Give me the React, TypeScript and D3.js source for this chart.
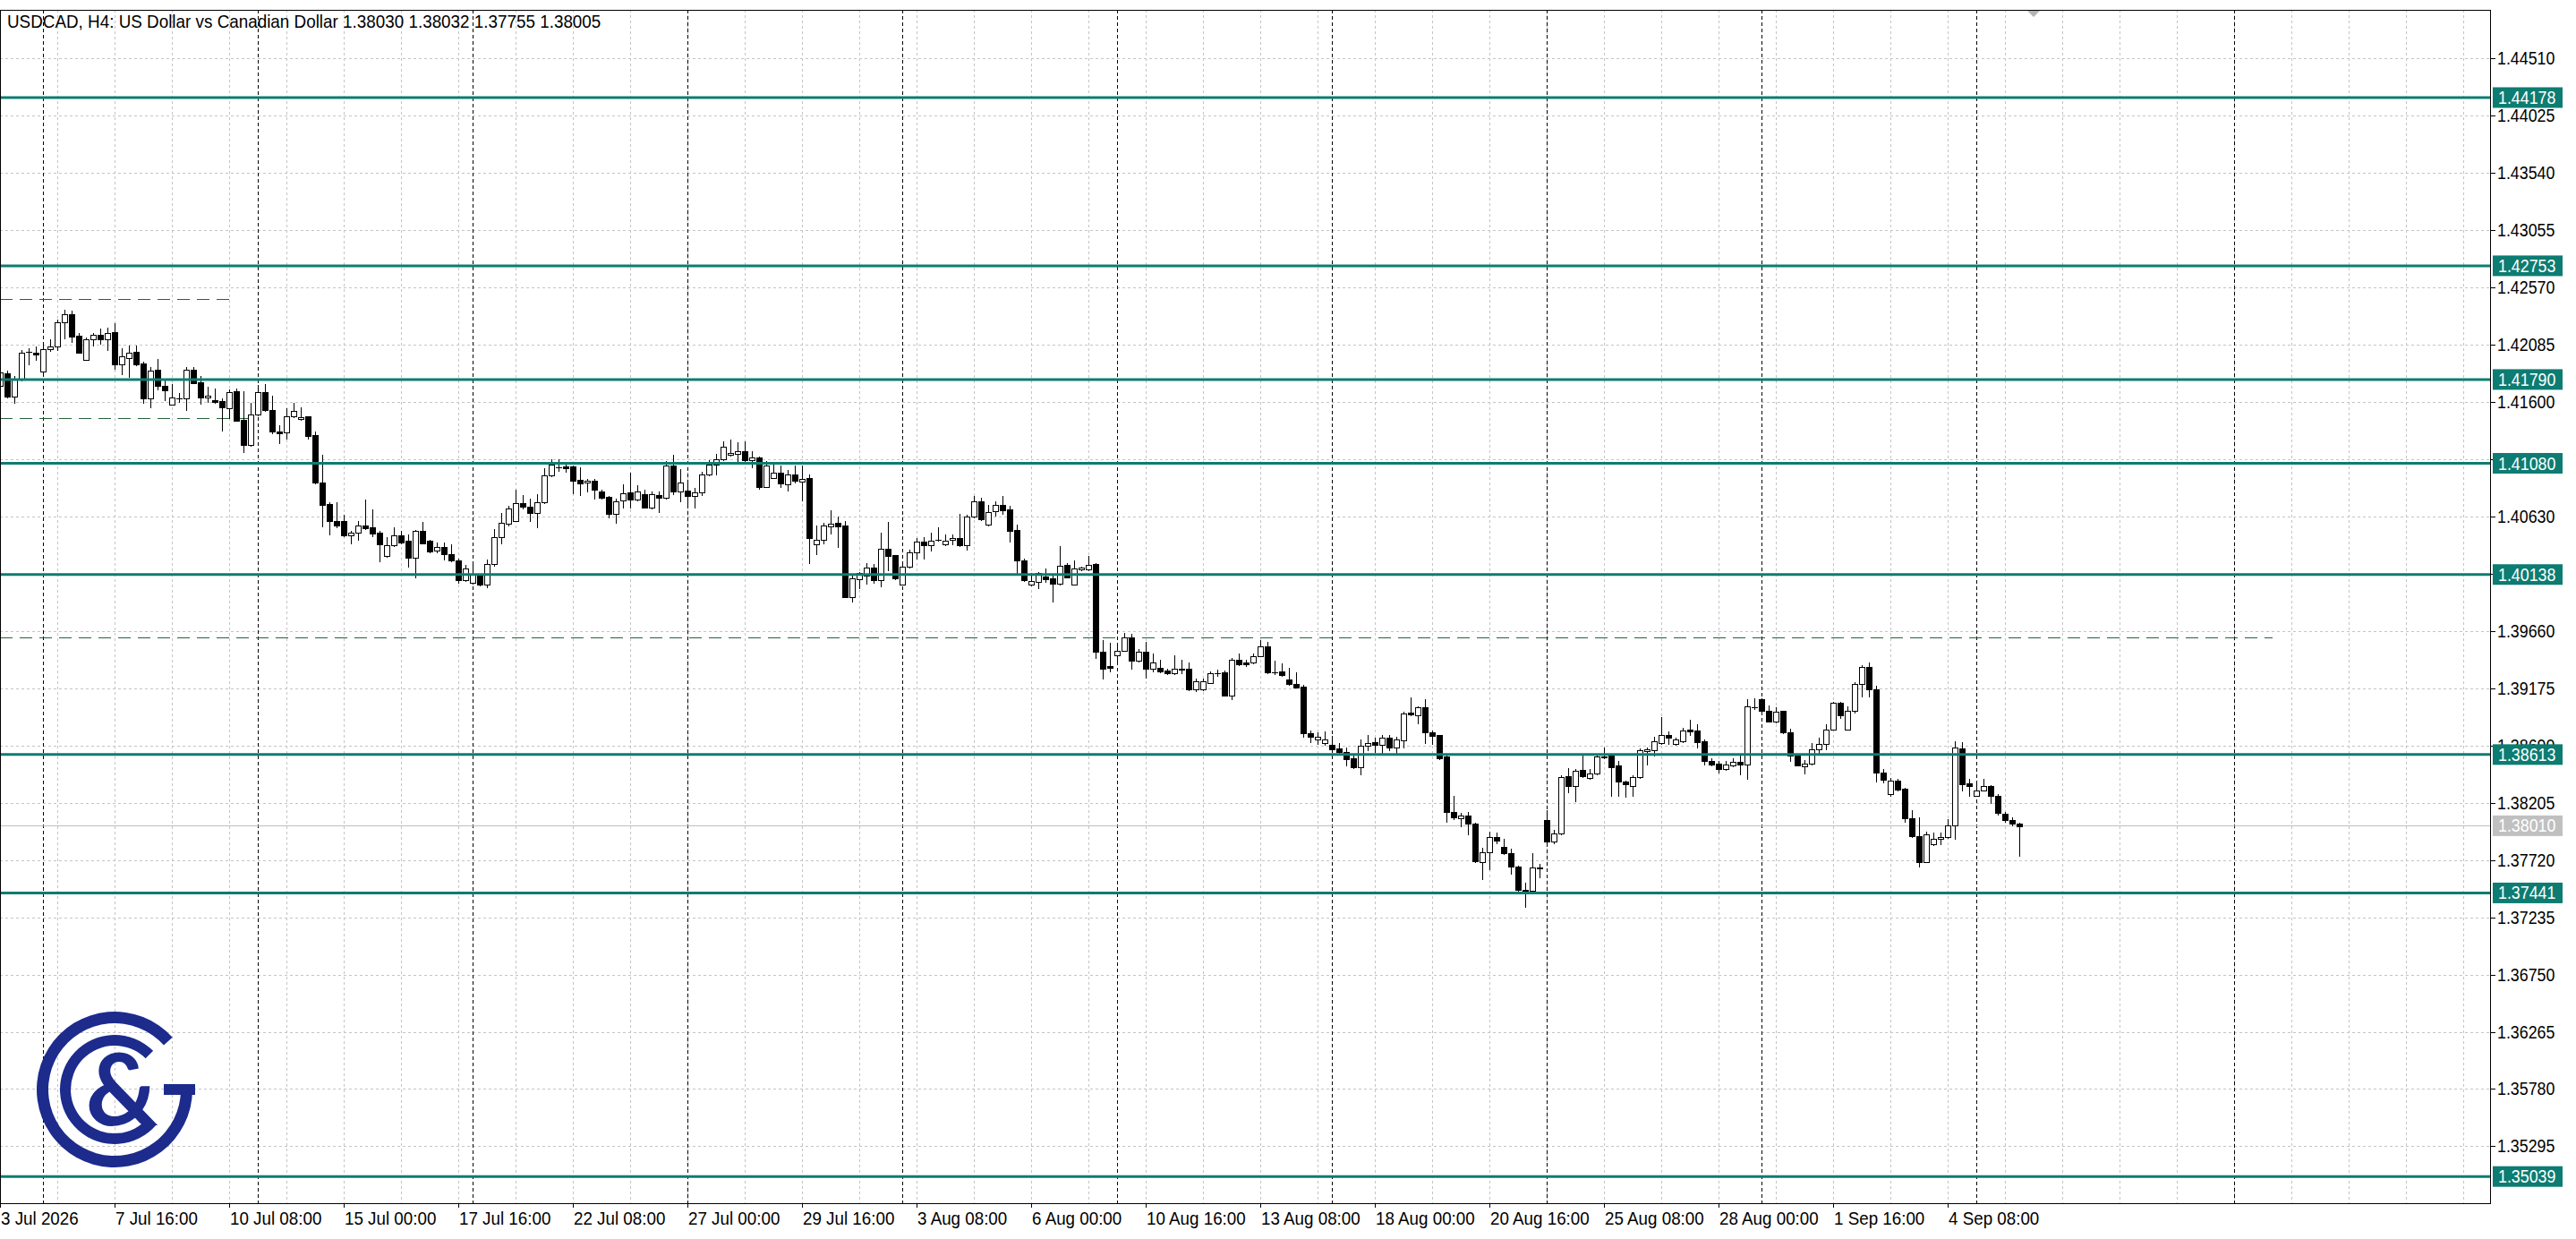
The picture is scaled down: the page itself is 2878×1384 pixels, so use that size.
import React, { useEffect } from "react";
import * as d3 from "d3";

const W = 2878;
const H = 1384;

const headerText = "USDCAD, H4:  US Dollar vs Canadian Dollar  1.38030 1.38032 1.37755 1.38005";

// 4H candles starting Fri 3 Jul 2026 00:00 (one entry per bar)
const opens = [
1.41736,1.41844,1.41647,1.41799,1.42021,1.42013,1.41857,1.42048,1.42069,1.42275,
1.42346,1.42164,1.41958,1.42132,1.42170,1.42132,1.42192,1.41917,1.41973,1.42023,
1.41922,1.41632,1.41869,1.41733,1.41579,1.41632,1.41632,1.41874,1.41766,1.41640,
1.41612,1.41610,1.41544,1.41690,1.41446,1.41236,1.41494,1.41683,1.41534,1.41352,
1.41342,1.41481,1.41456,1.41476,1.41317,1.40921,1.40732,1.40593,1.40588,1.40467,
1.40490,1.40550,1.40535,1.40490,1.40298,1.40384,1.40467,1.40422,1.40283,1.40510,
1.40424,1.40344,1.40371,1.40310,1.40260,1.40094,1.40069,1.40132,1.40051,1.40228,
1.40455,1.40568,1.40593,1.40740,1.40714,1.40656,1.40747,1.40977,1.41045,1.41052,
1.41052,1.40939,1.40914,1.40931,1.40845,1.40795,1.40649,1.40762,1.40833,1.40770,
1.40815,1.40707,1.40813,1.40787,1.41065,1.40843,1.40851,1.40806,1.40831,1.40982,
1.41070,1.41116,1.41154,1.41159,1.41184,1.41108,1.41128,1.40881,1.40957,1.41002,
1.40901,1.40982,1.40924,1.40952,1.40397,1.40435,1.40548,1.40579,1.40553,1.39948,
1.40099,1.40130,1.40195,1.40094,1.40359,1.40301,1.40056,1.40205,1.40326,1.40415,
1.40389,1.40432,1.40397,1.40435,1.40445,1.40389,1.40629,1.40760,1.40558,1.40672,
1.40730,1.40692,1.40513,1.40256,1.40049,1.40074,1.40120,1.40104,1.40062,1.40218,
1.40056,1.40183,1.40183,1.40225,1.39481,1.39363,1.39456,1.39494,1.39608,1.39406,
1.39481,1.39338,1.39348,1.39323,1.39305,1.39338,1.39338,1.39166,1.39166,1.39222,
1.39305,1.39310,1.39111,1.39413,1.39393,1.39393,1.39449,1.39532,1.39312,1.39318,
1.39247,1.39209,1.39191,1.38797,1.38740,1.38708,1.38696,1.38663,1.38633,1.38582,
1.38507,1.38688,1.38716,1.38696,1.38759,1.38671,1.38734,1.38966,1.38948,1.39016,
1.38804,1.38777,1.38600,1.38123,1.38073,1.38096,1.38028,1.37705,1.37783,1.37914,
1.37831,1.37775,1.37662,1.37465,1.37460,1.37654,1.38058,1.37876,1.37947,1.38431,
1.38350,1.38481,1.38413,1.38451,1.38595,1.38603,1.38519,1.38383,1.38343,1.38426,
1.38645,1.38650,1.38713,1.38777,1.38701,1.38729,1.38822,1.38814,1.38726,1.38562,
1.38537,1.38487,1.38524,1.38555,1.38532,1.39016,1.39079,1.38986,1.38893,1.38981,
1.38804,1.38608,1.38514,1.38539,1.38661,1.38703,1.38827,1.39049,1.38827,1.38981,
1.39213,1.39357,1.39162,1.38461,1.38275,1.38393,1.38323,1.38070,1.37919,1.37705,
1.37851,1.37896,1.37914,1.38010,1.38663,1.38368,1.38267,1.38312,1.38350,1.38262,
1.38110,1.38060,1.38030
];
const highs = [
1.41867,1.41862,1.41816,1.42038,1.42056,1.42069,1.42101,1.42132,1.42296,1.42384,
1.42371,1.42182,1.42144,1.42187,1.42220,1.42228,1.42265,1.42056,1.42079,1.42081,
1.41943,1.41897,1.41960,1.41791,1.41753,1.41678,1.41892,1.41892,1.41816,1.41726,
1.41716,1.41627,1.41703,1.41716,1.41690,1.41589,1.41741,1.41753,1.41653,1.41400,
1.41544,1.41595,1.41552,1.41481,1.41350,1.41153,1.40752,1.40750,1.40644,1.40505,
1.40593,1.40772,1.40692,1.40510,1.40455,1.40540,1.40510,1.40480,1.40515,1.40581,
1.40429,1.40409,1.40409,1.40397,1.40273,1.40220,1.40233,1.40137,1.40265,1.40525,
1.40661,1.40719,1.40858,1.40808,1.40777,1.40815,1.41035,1.41115,1.41115,1.41090,
1.41060,1.41047,1.40946,1.40946,1.40858,1.40800,1.40782,1.40903,1.40997,1.40896,
1.40858,1.40845,1.40845,1.41098,1.41153,1.41033,1.40906,1.40869,1.41007,1.41108,
1.41159,1.41265,1.41285,1.41260,1.41265,1.41184,1.41138,1.41101,1.41070,1.41058,
1.41020,1.41058,1.41058,1.40982,1.40553,1.40579,1.40679,1.40629,1.40591,1.40130,
1.40162,1.40233,1.40225,1.40495,1.40586,1.40306,1.40231,1.40351,1.40445,1.40452,
1.40490,1.40541,1.40478,1.40478,1.40649,1.40642,1.40801,1.40785,1.40730,1.40755,
1.40801,1.40717,1.40558,1.40271,1.40150,1.40162,1.40188,1.40137,1.40377,1.40231,
1.40258,1.40205,1.40294,1.40238,1.39582,1.39557,1.39545,1.39645,1.39633,1.39507,
1.39570,1.39469,1.39418,1.39338,1.39456,1.39418,1.39393,1.39254,1.39254,1.39318,
1.39330,1.39323,1.39431,1.39469,1.39418,1.39469,1.39582,1.39565,1.39406,1.39388,
1.39348,1.39310,1.39204,1.38820,1.38800,1.38809,1.38772,1.38713,1.38671,1.38603,
1.38739,1.38779,1.38754,1.38779,1.38779,1.38764,1.38973,1.39099,1.39024,1.39079,
1.38814,1.38779,1.38607,1.38260,1.38116,1.38123,1.38033,1.37826,1.37957,1.37952,
1.37896,1.37813,1.37674,1.37528,1.37775,1.37687,1.38141,1.37977,1.38436,1.38502,
1.38487,1.38603,1.38487,1.38607,1.38671,1.38613,1.38557,1.38393,1.38436,1.38663,
1.38671,1.38764,1.38928,1.38809,1.38759,1.38840,1.38905,1.38872,1.38739,1.38582,
1.38557,1.38562,1.38582,1.38620,1.39082,1.39092,1.39092,1.39031,1.39016,1.38986,
1.38835,1.38620,1.38570,1.38708,1.38759,1.38872,1.39062,1.39062,1.39024,1.39225,
1.39369,1.39394,1.39193,1.38487,1.38418,1.38406,1.38330,1.38141,1.38078,1.37957,
1.37952,1.37952,1.38065,1.38726,1.38721,1.38406,1.38381,1.38411,1.38355,1.38275,
1.38130,1.38080,1.38032
];
const lows = [
1.41716,1.41635,1.41595,1.41784,1.41917,1.41955,1.41849,1.42031,1.42038,1.42139,
1.42104,1.42013,1.41955,1.42081,1.42089,1.42038,1.41879,1.41834,1.41811,1.41912,
1.41589,1.41554,1.41703,1.41615,1.41577,1.41602,1.41531,1.41758,1.41584,1.41602,
1.41589,1.41357,1.41463,1.41438,1.41178,1.41231,1.41489,1.41526,1.41337,1.41254,
1.41287,1.41471,1.41446,1.41287,1.40909,1.40548,1.40480,1.40538,1.40465,1.40399,
1.40434,1.40525,1.40460,1.40253,1.40291,1.40379,1.40404,1.40207,1.40114,1.40399,
1.40328,1.40328,1.40265,1.40253,1.40069,1.40084,1.40064,1.40043,1.40033,1.40215,
1.40399,1.40555,1.40588,1.40694,1.40593,1.40540,1.40742,1.40967,1.41014,1.41009,
1.40825,1.40808,1.40838,1.40782,1.40777,1.40618,1.40573,1.40707,1.40702,1.40765,
1.40702,1.40694,1.40669,1.40782,1.40815,1.40755,1.40712,1.40705,1.40811,1.40977,
1.40987,1.41108,1.41146,1.41101,1.41096,1.41045,1.40861,1.40876,1.40952,1.40881,
1.40848,1.40919,1.40768,1.40236,1.40309,1.40402,1.40483,1.40372,1.39943,1.39910,
1.40024,1.40062,1.40069,1.40036,1.40175,1.40099,1.40049,1.40195,1.40271,1.40276,
1.40339,1.40422,1.40389,1.40397,1.40382,1.40347,1.40624,1.40596,1.40553,1.40637,
1.40654,1.40415,1.40145,1.40082,1.40044,1.40024,1.40074,1.39910,1.40054,1.40112,
1.40049,1.40175,1.40175,1.39431,1.39260,1.39318,1.39388,1.39489,1.39338,1.39401,
1.39267,1.39318,1.39312,1.39292,1.39297,1.39305,1.39161,1.39154,1.39161,1.39217,
1.39280,1.39111,1.39085,1.39373,1.39363,1.39388,1.39444,1.39305,1.39297,1.39280,
1.39207,1.39179,1.38767,1.38720,1.38700,1.38696,1.38633,1.38620,1.38519,1.38502,
1.38444,1.38653,1.38633,1.38628,1.38653,1.38620,1.38671,1.38943,1.38880,1.38714,
1.38703,1.38575,1.38040,1.38065,1.38007,1.37939,1.37700,1.37561,1.37644,1.37864,
1.37770,1.37606,1.37460,1.37326,1.37453,1.37574,1.37838,1.37864,1.37939,1.38292,
1.38217,1.38426,1.38406,1.38444,1.38582,1.38260,1.38260,1.38254,1.38267,1.38418,
1.38532,1.38608,1.38703,1.38703,1.38696,1.38721,1.38779,1.38671,1.38527,1.38519,
1.38461,1.38481,1.38512,1.38444,1.38411,1.38998,1.38981,1.38890,1.38885,1.38797,
1.38557,1.38519,1.38456,1.38532,1.38620,1.38658,1.38822,1.38923,1.38822,1.38966,
1.39107,1.39107,1.38381,1.38376,1.38267,1.38305,1.38040,1.37914,1.37662,1.37700,
1.37843,1.37856,1.37906,1.37896,1.38310,1.38267,1.38260,1.38305,1.38204,1.38103,
1.38040,1.38010,1.37755
];
const closes = [
1.41849,1.41645,1.41799,1.42018,1.42023,1.42001,1.42048,1.42069,1.42275,1.42344,
1.42152,1.42018,1.42127,1.42170,1.42129,1.42182,1.41917,1.41988,1.42013,1.41917,
1.41632,1.41867,1.41736,1.41698,1.41635,1.41630,1.41874,1.41761,1.41640,1.41655,
1.41600,1.41552,1.41685,1.41443,1.41236,1.41494,1.41683,1.41534,1.41347,1.41337,
1.41481,1.41526,1.41473,1.41312,1.40916,1.40729,1.40593,1.40555,1.40467,1.40490,
1.40553,1.40530,1.40485,1.40397,1.40384,1.40467,1.40409,1.40283,1.40505,1.40404,
1.40336,1.40369,1.40308,1.40258,1.40094,1.40187,1.40144,1.40051,1.40228,1.40455,
1.40573,1.40694,1.40740,1.40714,1.40656,1.40747,1.40977,1.41072,1.41043,1.41037,
1.40934,1.40909,1.40929,1.40858,1.40790,1.40649,1.40757,1.40825,1.40770,1.40838,
1.40707,1.40815,1.40787,1.41060,1.40845,1.40919,1.40806,1.40831,1.40987,1.41070,
1.41116,1.41222,1.41171,1.41184,1.41108,1.41133,1.40881,1.41058,1.41002,1.40906,
1.40982,1.40932,1.40949,1.40447,1.40435,1.40553,1.40571,1.40548,1.39948,1.40104,
1.40150,1.40195,1.40094,1.40359,1.40296,1.40107,1.40208,1.40326,1.40415,1.40389,
1.40427,1.40430,1.40427,1.40445,1.40389,1.40629,1.40760,1.40609,1.40669,1.40730,
1.40684,1.40508,1.40258,1.40087,1.40082,1.40150,1.40099,1.40062,1.40213,1.40117,
1.40188,1.40195,1.40220,1.39481,1.39343,1.39350,1.39494,1.39602,1.39406,1.39481,
1.39338,1.39393,1.39318,1.39302,1.39338,1.39336,1.39166,1.39237,1.39234,1.39305,
1.39303,1.39116,1.39413,1.39381,1.39376,1.39449,1.39532,1.39312,1.39310,1.39287,
1.39212,1.39184,1.38797,1.38760,1.38760,1.38739,1.38658,1.38633,1.38577,1.38507,
1.38691,1.38713,1.38696,1.38759,1.38671,1.38739,1.38961,1.38953,1.39016,1.38804,
1.38772,1.38582,1.38123,1.38078,1.38096,1.38028,1.37707,1.37783,1.37914,1.37884,
1.37775,1.37662,1.37465,1.37453,1.37654,1.37652,1.37876,1.37947,1.38426,1.38350,
1.38476,1.38431,1.38451,1.38595,1.38592,1.38507,1.38381,1.38363,1.38426,1.38650,
1.38658,1.38726,1.38777,1.38759,1.38739,1.38819,1.38809,1.38721,1.38562,1.38527,
1.38487,1.38527,1.38555,1.38532,1.39019,1.39014,1.38986,1.38893,1.38978,1.38804,
1.38608,1.38524,1.38539,1.38661,1.38703,1.38827,1.39049,1.38945,1.38986,1.39213,
1.39357,1.39162,1.38461,1.38401,1.38393,1.38318,1.38070,1.37919,1.37705,1.37934,
1.37896,1.37914,1.38010,1.38671,1.38363,1.38350,1.38312,1.38350,1.38260,1.38116,
1.38060,1.38030,1.38005
];

const timeLabels = [
  "3 Jul 2026", "7 Jul 16:00", "10 Jul 08:00", "15 Jul 00:00", "17 Jul 16:00", "22 Jul 08:00",
  "27 Jul 00:00", "29 Jul 16:00", "3 Aug 08:00", "6 Aug 00:00", "10 Aug 16:00", "13 Aug 08:00",
  "18 Aug 00:00", "20 Aug 16:00", "25 Aug 08:00", "28 Aug 00:00", "1 Sep 16:00", "4 Sep 08:00"
];
const barsPerTimeLabel = 16;
const barsPerGridColumn = 8;
const weekStartBars = [6, 36, 66, 96, 126, 156, 186, 216, 246, 276, 312];

const priceTicks = [
  1.35295, 1.35780, 1.36265, 1.36750, 1.37235, 1.37720, 1.38205, 1.38690, 1.39175, 1.39660,
  1.40145, 1.40630, 1.41115, 1.41600, 1.42085, 1.42570, 1.43055, 1.43540, 1.44025, 1.44510
];
const levelLines = [1.44178, 1.42753, 1.41790, 1.41080, 1.40138, 1.38613, 1.37441, 1.35039];
const currentPrice = 1.38010;
const dashedLevels = [1.42475, 1.41466, 1.39609];
const dashedLevelEndBars = [32.1, 35.1, 317.4];
const chartShiftBar = 284;

// layout
const plotLeft = 0;
const plotRight = 2782;
const plotTop = 11;
const plotBottom = 1344;
const visibleBars = 347.75;

const TEAL = "#0d7c72";
const GRID = "#c4c4c4";
const NAVY = "#1c2b8c";
const FONT = "'Liberation Sans', Arial, sans-serif";

function Label({ x, y, text, fill = "#000", anchor = "start", size = 20, sx = 0.89 }: any) {
  return (
    <text
      transform={`translate(${x},${y}) scale(${sx},1)`}
      fontFamily={FONT}
      fontSize={size}
      fill={fill}
      textAnchor={anchor}
    >
      {text}
    </text>
  );
}

export default function App() {
  useEffect(() => {
    document.body.style.margin = "0";
  }, []);

  const x = d3.scaleLinear().domain([0, visibleBars]).range([plotLeft, plotRight]);
  const y = d3.scaleLinear().domain([1.34813, 1.44921]).range([plotBottom, plotTop]);

  const gridCols = d3.range(0, visibleBars, barsPerGridColumn);

  const arcOuter = d3.arc()({
    innerRadius: 74,
    outerRadius: 87,
    startAngle: (90 * Math.PI) / 180,
    endAngle: (408 * Math.PI) / 180,
  } as any) as string;
  const arcInner = d3.arc()({
    innerRadius: 49,
    outerRadius: 61,
    startAngle: (130 * Math.PI) / 180,
    endAngle: (405 * Math.PI) / 180,
  } as any) as string;

  return (
    <svg
      width={W}
      height={H}
      viewBox={`0 0 ${W} ${H}`}
      style={{ position: "absolute", left: 0, top: 0, background: "#fff" }}
    >
      <defs>
        <clipPath id="plotClip">
          <rect x={plotLeft} y={plotTop} width={plotRight - plotLeft} height={plotBottom - plotTop} />
        </clipPath>
      </defs>
      <rect x={0} y={0} width={W} height={H} fill="#fff" />

      {/* grid */}
      <g shapeRendering="crispEdges" clipPath="url(#plotClip)">
        {gridCols.map((b) => (
          <line key={"gc" + b} x1={Math.round(x(b)) + 0.5} x2={Math.round(x(b)) + 0.5} y1={plotTop} y2={plotBottom}
            stroke={GRID} strokeWidth={1} strokeDasharray="3,3" />
        ))}
        {priceTicks.map((p) => (
          <line key={"gr" + p} x1={plotLeft} x2={plotRight} y1={Math.round(y(p)) + 0.5} y2={Math.round(y(p)) + 0.5}
            stroke={GRID} strokeWidth={1} strokeDasharray="3,3" />
        ))}
        {weekStartBars.map((b) => (
          <line key={"ws" + b} x1={Math.round(x(b)) + 0.5} x2={Math.round(x(b)) + 0.5} y1={plotTop} y2={plotBottom}
            stroke="#000" strokeWidth={1} strokeDasharray="4,3" />
        ))}
      </g>

      {/* logo */}
      <g transform="translate(128,1217)" fill={NAVY}>
        <path d={arcOuter} />
        <path d={arcInner} />
        <rect x={55} y={-6} width={35} height={12} />
        <text x={8} y={40} textAnchor="middle" fontFamily="Lato, 'Open Sans', sans-serif" fontWeight={700} fontSize={112}>&amp;</text>
      </g>

      <g clipPath="url(#plotClip)">
        {/* dashed levels */}
        {dashedLevels.map((p, i) => (
          <line key={"dl" + i} x1={plotLeft} x2={x(dashedLevelEndBars[i])} y1={Math.round(y(p)) + 0.5} y2={Math.round(y(p)) + 0.5}
            stroke="#24633a" strokeWidth={1} strokeDasharray="14,8" shapeRendering="crispEdges" />
        ))}
        {/* current price line */}
        <line x1={plotLeft} x2={plotRight} y1={Math.round(y(currentPrice)) + 0.5} y2={Math.round(y(currentPrice)) + 0.5}
          stroke="#c0c0c0" strokeWidth={1} shapeRendering="crispEdges" />

        {/* candles */}
        <g shapeRendering="crispEdges">
          {opens.map((o, i) => {
            const c = closes[i];
            const cx = Math.round(x(i));
            const yH = Math.round(y(highs[i]));
            const yL = Math.round(y(lows[i]));
            const yTop = Math.round(y(Math.max(o, c)));
            const yBot = Math.round(y(Math.min(o, c)));
            const bull = c >= o;
            return (
              <g key={"k" + i}>
                <line x1={cx + 0.5} x2={cx + 0.5} y1={yH} y2={yL + 1} stroke="#000" strokeWidth={1} />
                {yBot - yTop < 1 ? (
                  <line x1={cx - 3} x2={cx + 4} y1={yTop + 0.5} y2={yTop + 0.5} stroke="#000" strokeWidth={1} />
                ) : (
                  <rect x={cx - 2.5} y={yTop + 0.5} width={6} height={yBot - yTop}
                    fill={bull ? "#fff" : "#000"} stroke="#000" strokeWidth={1} />
                )}
              </g>
            );
          })}
        </g>

        {/* horizontal levels */}
        {levelLines.map((p) => (
          <line key={"lv" + p} x1={plotLeft} x2={plotRight} y1={y(p)} y2={y(p)} stroke={TEAL} strokeWidth={3} />
        ))}
      </g>

      {/* chart shift marker */}
      <path d={`M${x(chartShiftBar) - 7},${plotTop + 1} L${x(chartShiftBar) + 7},${plotTop + 1} L${x(chartShiftBar)},${plotTop + 8} Z`} fill="#b4b4b4" />

      {/* frame */}
      <rect x={plotLeft + 0.5} y={plotTop + 0.5} width={plotRight - plotLeft} height={plotBottom - plotTop}
        fill="none" stroke="#000" strokeWidth={1} shapeRendering="crispEdges" />

      {/* price axis */}
      <g shapeRendering="crispEdges">
        {priceTicks.map((p) => (
          <line key={"pt" + p} x1={plotRight} x2={plotRight + 6} y1={Math.round(y(p)) + 0.5} y2={Math.round(y(p)) + 0.5} stroke="#000" />
        ))}
      </g>
      {priceTicks.map((p) => (
        <Label key={"pl" + p} x={2790} y={y(p) + 7} text={p.toFixed(5)} />
      ))}
      {levelLines.map((p) => (
        <g key={"lb" + p}>
          <rect x={2785} y={y(p) - 11.5} width={78} height={23} fill={TEAL} />
          <Label x={2791} y={y(p) + 7} text={p.toFixed(5)} fill="#fff" />
        </g>
      ))}
      <rect x={2785} y={y(currentPrice) - 11.5} width={78} height={23} fill="#c0c0c0" />
      <Label x={2791} y={y(currentPrice) + 7} text={currentPrice.toFixed(5)} fill="#fff" />

      {/* time axis */}
      <g shapeRendering="crispEdges">
        {timeLabels.map((t, k) => (
          <line key={"tt" + k} x1={Math.round(x(k * barsPerTimeLabel)) + 0.5} x2={Math.round(x(k * barsPerTimeLabel)) + 0.5}
            y1={plotBottom} y2={plotBottom + 5} stroke="#000" />
        ))}
      </g>
      {timeLabels.map((t, k) => (
        <Label key={"tl" + k} x={x(k * barsPerTimeLabel) + 1} y={1368} text={t} sx={0.94} />
      ))}

      {/* header */}
      <Label x={8} y={31} text={headerText} size={20.5} sx={0.92} />
    </svg>
  );
}
